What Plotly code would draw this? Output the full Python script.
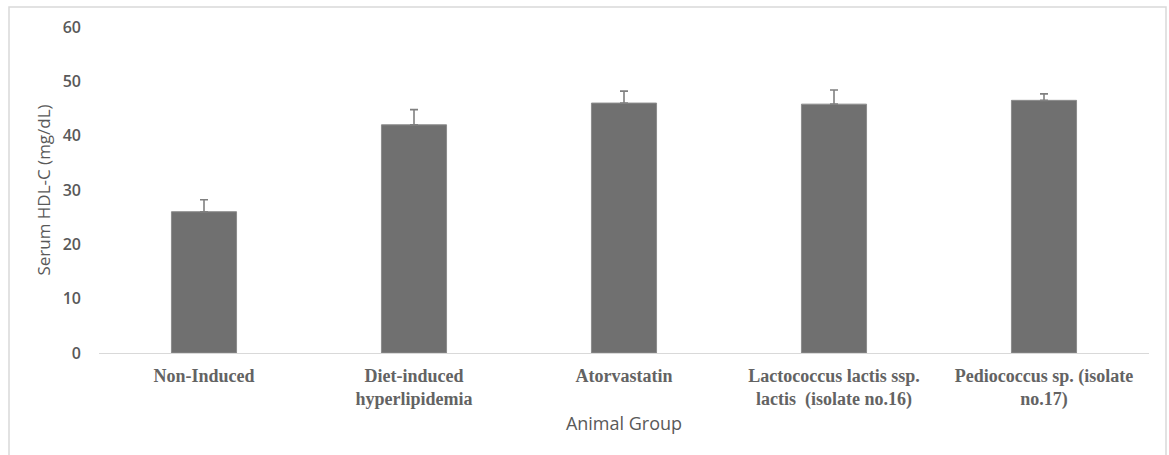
import plotly.graph_objects as go

# HDL-C by animal group
groups = [
    "Non-Induced",
    "Diet-induced<br>hyperlipidemia",
    "Atorvastatin",
    "Lactococcus lactis ssp.<br>lactis\u00a0 (isolate no.16)",
    "Pediococcus sp. (isolate<br>no.17)",
]
hdl_mean = [26.0, 42.0, 46.0, 45.8, 46.5]
hdl_err = [2.2, 2.8, 2.2, 2.6, 1.2]
y_ticks = [0, 10, 20, 30, 40, 50, 60]

W, H = 1169, 455
M_L, M_R, M_T, M_B = 99, 20, 27, 102

fig = go.Figure(
    go.Bar(
        x=groups,
        y=hdl_mean,
        marker=dict(color="#707070", line=dict(color="#8c8c8c", width=1)),
        error_y=dict(
            type="data",
            symmetric=False,
            array=hdl_err,
            arrayminus=[0] * len(hdl_err),
            color="#808080",
            thickness=1.6,
            width=4,
        ),
        width=0.31,
    )
)

# light chart-area frame around the whole figure
pw = W - M_L - M_R
ph = H - M_T - M_B
fig.add_shape(
    type="rect",
    xref="paper", yref="paper",
    x0=(9 - M_L) / pw, x1=(1166 - M_L) / pw,
    y0=(H - M_B - 470) / ph, y1=(H - M_B - 7) / ph,
    line=dict(color="#d9d9d9", width=1.5),
    fillcolor="rgba(0,0,0,0)",
    layer="below",
)

fig.update_layout(
    width=W,
    height=H,
    margin=dict(l=M_L, r=M_R, t=M_T, b=M_B),
    paper_bgcolor="white",
    plot_bgcolor="white",
    showlegend=False,
    xaxis=dict(
        showline=True,
        linecolor="#d9d9d9",
        linewidth=1,
        showgrid=False,
        ticks="",
        tickfont=dict(family="Liberation Serif", size=18, color="#636363", weight="bold"),
        title=dict(
            text="Animal Group",
            font=dict(family="Open Sans", size=18, color="#595959"),
            standoff=8,
        ),
        ticklabelstandoff=6,
    ),
    yaxis=dict(
        range=[0, 60],
        tickvals=y_ticks,
        showgrid=False,
        zeroline=False,
        showline=False,
        ticks="",
        tickfont=dict(family="Open Sans", size=16, color="#595959", weight=600),
        ticklabelstandoff=17,
        title=dict(
            text="Serum HDL-C (mg/dL)",
            font=dict(family="Open Sans", size=17, color="#595959"),
            standoff=7,
        ),
    ),
)

fig.write_html("out.html")
